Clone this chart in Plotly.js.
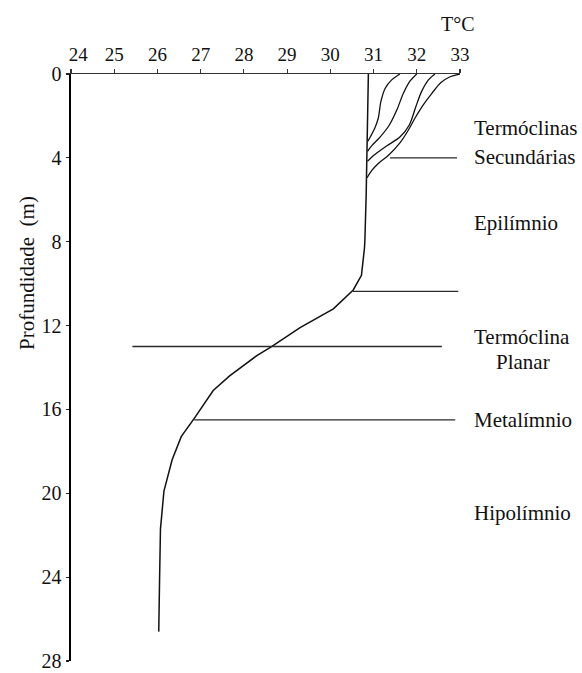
<!DOCTYPE html>
<html>
<head>
<meta charset="utf-8">
<script src="https://cdn.plot.ly/plotly-3.0.1.min.js"></script>
<style>
  html, body { margin: 0; padding: 0; background: #fff; }
  #chart { width: 582px; height: 673px; }
</style>
</head>
<body>
<div id="chart"></div>
<script>
// Temperature profile (°C) against depth (m)
const depthMain = [0, 3.1, 5.7, 7.9, 8.3, 9.6, 10.3, 11.2, 12.1, 13.0, 13.45, 14.4, 15.1, 16.4, 17.3, 18.4, 19.9, 21.7, 23.0, 24.0, 26.6];
const tempMain  = [30.88, 30.86, 30.83, 30.80, 30.79, 30.72, 30.53, 30.07, 29.30, 28.64, 28.29, 27.67, 27.29, 26.86, 26.55, 26.34, 26.15, 26.07, 26.05, 26.05, 26.03];

// Secondary thermocline profiles near the surface
const depthSec1 = [0, 0.28, 0.68, 1.31, 2.1, 2.58, 3.21];
const tempSec1  = [31.61, 31.42, 31.27, 31.17, 31.11, 31.03, 30.87];
const depthSec2 = [0, 0.32, 0.92, 1.71, 2.42, 3.01, 3.42, 3.69];
const tempSec2  = [32.0, 31.85, 31.69, 31.54, 31.37, 31.15, 30.96, 30.86];
const depthSec3 = [0, 0.28, 0.84, 1.55, 2.42, 3.01, 3.42, 3.84, 4.16];
const tempSec3  = [32.42, 32.27, 32.11, 31.98, 31.83, 31.61, 31.31, 31.03, 30.86];
const depthSec4 = [0, 0.13, 0.41, 0.92, 1.47, 2.1, 2.66, 3.29, 3.89, 4.27, 4.6, 4.95];
const tempSec4  = [33.0, 32.77, 32.56, 32.35, 32.15, 31.96, 31.81, 31.61, 31.34, 31.11, 30.96, 30.85];

// Horizontal layer boundaries
const levelDepths = [4.0, 10.37, 13.0, 16.5];
const levelTStart = [31.38, 30.52, 25.42, 26.85];
const levelTEnd   = [32.93, 32.96, 32.58, 32.89];

// Zone labels on the right
const zoneLabels = ['Termóclinas', 'Secundárias', 'Epilímnio', 'Termóclina', 'Planar', 'Metalímnio', 'Hipolímnio'];
const zoneDepths = [2.58, 3.98, 7.09, 12.54, 13.73, 16.5, 20.93];
const zoneCentered = [false, false, false, false, true, false, false];

// Axis ticks
const tempTicks = [24, 25, 26, 27, 28, 29, 30, 31, 32, 33];
const depthTicks = [0, 4, 8, 12, 16, 20, 24, 28];

const serif = 'Liberation Serif';
const ink = '#111';

const traces = [];
traces.push({
  x: tempMain, y: depthMain, mode: 'lines', type: 'scatter',
  line: { color: ink, width: 1.5 }, hoverinfo: 'skip', cliponaxis: false
});
[[tempSec1, depthSec1], [tempSec2, depthSec2], [tempSec3, depthSec3], [tempSec4, depthSec4]].forEach(([t, d]) => {
  traces.push({
    x: t, y: d, mode: 'lines', type: 'scatter',
    line: { color: ink, width: 1.3, shape: 'spline', smoothing: 0.8 },
    hoverinfo: 'skip', cliponaxis: false
  });
});
levelDepths.forEach((d, i) => {
  traces.push({
    x: [levelTStart[i], levelTEnd[i]], y: [d, d], mode: 'lines', type: 'scatter',
    line: { color: '#2a2a2a', width: 1.4 }, hoverinfo: 'skip', cliponaxis: false
  });
});

const annotations = zoneLabels.map((txt, i) => ({
  text: txt,
  xref: 'paper', yref: 'y',
  x: zoneCentered[i] ? 1.162 : 1.031,
  y: zoneDepths[i],
  xanchor: zoneCentered[i] ? 'center' : 'left',
  yanchor: 'middle',
  showarrow: false,
  font: { family: serif, size: 21, color: ink }
}));
// Unit label above the temperature axis
annotations.push({
  text: 'T°C', xref: 'paper', yref: 'paper', x: 0.995, y: 1.085,
  xanchor: 'center', yanchor: 'middle', showarrow: false,
  font: { family: serif, size: 20, color: ink }
});
// Depth axis title, set in the upper half of the axis
annotations.push({
  text: 'Profundidade  (m)', xref: 'paper', yref: 'paper', x: -0.113, y: 0.661,
  xanchor: 'center', yanchor: 'middle', textangle: -90, showarrow: false,
  font: { family: serif, size: 21, color: ink }
});

const layout = {
  width: 582, height: 673,
  margin: { l: 71, r: 122, t: 74, b: 12 },
  paper_bgcolor: '#fff', plot_bgcolor: '#fff',
  showlegend: false,
  font: { family: serif, color: ink },
  xaxis: {
    side: 'top', range: [24, 33], tickmode: 'array',
    tickvals: tempTicks,
    ticktext: tempTicks.map((v, i) => (i === 0 ? '\u00a0\u00a0\u00a0' : '') + v),
    ticks: 'outside', ticklen: 4, tickwidth: 1.2, tickcolor: '#333',
    showline: true, linecolor: '#333', linewidth: 1.5,
    showgrid: false, zeroline: false,
    tickfont: { family: serif, size: 19, color: ink },
    ticklabeloverflow: 'allow',
    fixedrange: true
  },
  yaxis: {
    range: [28.001, 0], tickmode: 'array', tickvals: depthTicks,
    ticks: 'outside', ticklen: 3, tickwidth: 1.2, tickcolor: '#222',
    showline: true, linecolor: '#000', linewidth: 2.5,
    showgrid: false, zeroline: false,
    tickfont: { family: serif, size: 20, color: ink },
    ticklabeloverflow: 'allow',
    fixedrange: true
  },
  annotations: annotations
};

Plotly.newPlot('chart', traces, layout, { displayModeBar: false, staticPlot: true });
</script>
</body>
</html>
